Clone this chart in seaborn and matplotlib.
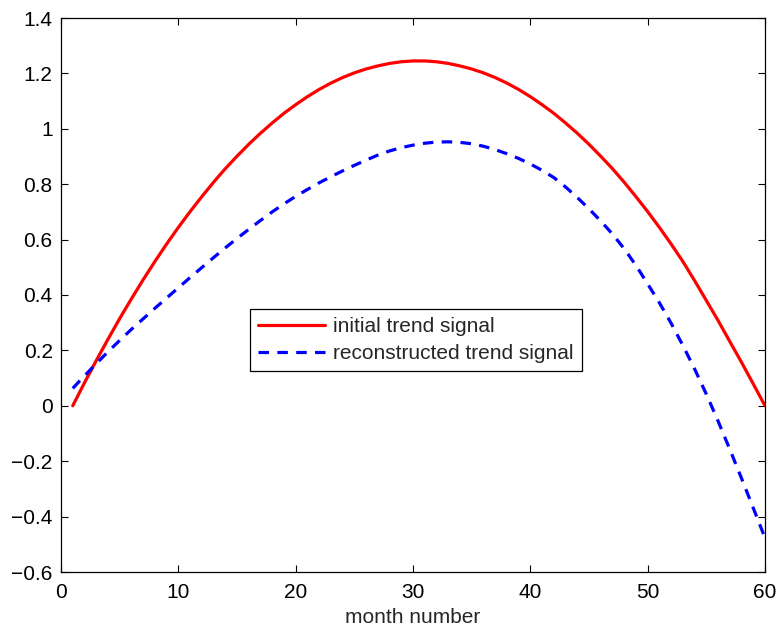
import numpy as np
import pandas as pd
import matplotlib
matplotlib.use("Agg")
import matplotlib.pyplot as plt
import seaborn as sns
from matplotlib.ticker import FuncFormatter

months = list(range(1, 61))
initial_trend = [0.000, 0.083, 0.163, 0.240, 0.315, 0.386, 0.455, 0.521, 0.584, 0.644,
                 0.701, 0.755, 0.807, 0.856, 0.901, 0.944, 0.984, 1.021, 1.056, 1.087,
                 1.116, 1.142, 1.165, 1.185, 1.202, 1.216, 1.227, 1.236, 1.242, 1.245,
                 1.245, 1.242, 1.236, 1.227, 1.216, 1.202, 1.185, 1.165, 1.142, 1.116,
                 1.087, 1.056, 1.021, 0.984, 0.944, 0.901, 0.856, 0.807, 0.755, 0.701,
                 0.644, 0.584, 0.521, 0.452, 0.380, 0.308, 0.232, 0.157, 0.079, 0.000]
reconstructed_trend = [0.063, 0.108, 0.152, 0.195, 0.236, 0.276, 0.314, 0.352, 0.389, 0.426,
                       0.463, 0.499, 0.535, 0.570, 0.604, 0.637, 0.669, 0.700, 0.729, 0.756,
                       0.781, 0.805, 0.827, 0.848, 0.868, 0.887, 0.905, 0.920, 0.932, 0.941,
                       0.948, 0.952, 0.953, 0.951, 0.946, 0.937, 0.925, 0.910, 0.893, 0.873,
                       0.850, 0.824, 0.790, 0.752, 0.711, 0.667, 0.620, 0.567, 0.507, 0.440,
                       0.372, 0.298, 0.218, 0.133, 0.042, -0.055, -0.157, -0.262, -0.369, -0.477]
series_labels = ["initial trend signal", "reconstructed trend signal"]
x_ticks = [0, 10, 20, 30, 40, 50, 60]
y_ticks = [-0.6, -0.4, -0.2, 0, 0.2, 0.4, 0.6, 0.8, 1.0, 1.2, 1.4]

df_init = pd.DataFrame({"month": months, "value": initial_trend})
df_rec = pd.DataFrame({"month": months, "value": reconstructed_trend})

sns.set_theme(style="ticks")
plt.rcParams["font.family"] = ["Liberation Sans", "DejaVu Sans"]

fig = plt.figure(figsize=(7.8, 6.35), dpi=100)
ax = fig.add_axes([61/780, 1 - 572/635, (765 - 61)/780, (572 - 18)/635])

sns.lineplot(data=df_init, x="month", y="value", ax=ax, color="#ff0000",
             linewidth=2.3, label=series_labels[0])
sns.lineplot(data=df_rec, x="month", y="value", ax=ax, color="#0000ff",
             linewidth=2.3, linestyle=(0, (3.3, 2.6)), label=series_labels[1])

ax.set_xlim(0, 60)
ax.set_ylim(-0.6, 1.4)
ax.set_xticks(x_ticks)
ax.set_yticks(y_ticks)
ax.yaxis.set_major_formatter(FuncFormatter(lambda v, p: ("%g" % round(v, 2)).replace("-", "\u2212")))
ax.set_xlabel("month number", fontsize=15, labelpad=4)
ax.set_ylabel("")
ax.tick_params(axis="both", direction="in", length=5, width=0.8, labelsize=15, colors="black",
               top=True, right=True)
ax.tick_params(axis="x", pad=8)
ax.tick_params(axis="y", pad=6)
for s in ax.spines.values():
    s.set_visible(True)
    s.set_linewidth(0.9)
    s.set_color("black")

leg = ax.legend(loc="center", bbox_to_anchor=(0.504, 0.419), fontsize=15,
                frameon=True, fancybox=False, edgecolor="black", framealpha=1,
                handlelength=3.2, borderpad=0.4, labelspacing=0.38, handletextpad=0.4,
                borderaxespad=0)
leg.get_frame().set_linewidth(0.9)

fig.savefig("out.png", dpi=100)
